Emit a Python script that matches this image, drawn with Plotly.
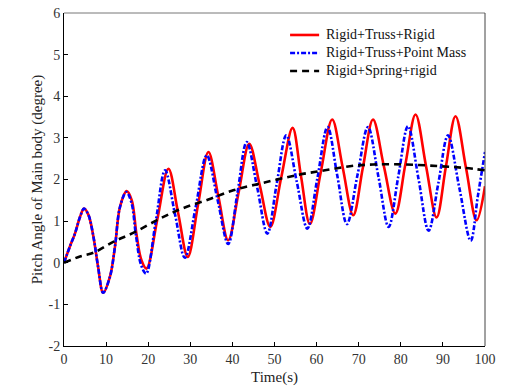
import plotly.graph_objects as go

# Rigid+Truss+Rigid (red, solid)
t_red = [0, 1.4, 2.6, 3.8, 4.75, 5.8, 7.0, 8.1, 9.3, 10.9, 12.1, 13.3, 14.9, 16.1, 17.2, 18.4, 19.6,
         22.2, 24.8, 27.1, 29.4, 31.85, 34.3, 36.65, 39.0, 41.5, 44.0, 46.5, 49.0, 51.6, 54.3,
         56.3, 58.4, 61.0, 63.7, 66.2, 68.7, 71.0, 73.4, 76.0, 78.7, 81.1, 83.5, 86.0, 88.5,
         90.7, 93.0, 95.5, 98.0, 100]
v_red = [0, 0.39, 0.70, 1.10, 1.30, 1.15, 0.62, -0.10, -0.72, -0.34, 0.38, 1.34, 1.72, 1.50, 0.70, 0.06, -0.14,
         1.06, 2.26, 1.20, 0.14, 1.40, 2.66, 1.60, 0.54, 1.70, 2.86, 1.86, 0.86, 2.05, 3.24,
         2.08, 0.93, 2.18, 3.44, 2.29, 1.14, 2.29, 3.44, 2.31, 1.18, 2.37, 3.56, 2.32, 1.09,
         2.30, 3.52, 2.27, 1.02, 1.84]

# Rigid+Truss+Point Mass (blue, dash-dot)
t_blue = [0, 1.4, 2.6, 3.8, 4.75, 5.8, 7.0, 8.1, 9.3, 10.9, 12.1, 13.3, 14.8, 16.0, 17.1, 18.3, 19.5,
          21.8, 24.0, 26.4, 28.7, 31.3, 33.9, 36.5, 39.0, 41.2, 43.4, 45.9, 48.3, 50.5, 52.8,
          55.3, 57.8, 60.2, 62.6, 64.9, 67.2, 69.7, 72.2, 74.7, 77.1, 79.4, 81.7, 84.2, 86.6,
          88.9, 91.2, 93.9, 96.6, 98.3, 100]
v_blue = [0, 0.39, 0.70, 1.10, 1.30, 1.15, 0.62, -0.10, -0.72, -0.34, 0.38, 1.34, 1.70, 1.45, 0.65, -0.05, -0.26,
          1.00, 2.22, 1.15, 0.12, 1.35, 2.58, 1.50, 0.45, 1.68, 2.90, 1.80, 0.70, 1.88, 3.06,
          1.94, 0.82, 2.04, 3.26, 2.10, 0.93, 2.10, 3.26, 2.06, 0.86, 2.07, 3.28, 2.02, 0.77,
          1.90, 3.06, 1.80, 0.53, 1.60, 2.66]

# Rigid+Spring+rigid (black, dashed)
t_black = [0, 3.8, 7.0, 11.7, 16.9, 22.8, 28.0, 34.3, 40.2, 48.1, 56.0, 62.0, 67.9, 73.4, 81.3, 89.2, 95.0, 100]
v_black = [0, 0.15, 0.24, 0.50, 0.74, 1.06, 1.30, 1.52, 1.74, 1.94, 2.12, 2.22, 2.32, 2.36, 2.36, 2.32, 2.28, 2.22]

names = ["Rigid+Truss+Rigid", "Rigid+Truss+Point Mass", "Rigid+Spring+rigid"]
x_ticks = [0, 10, 20, 30, 40, 50, 60, 70, 80, 90, 100]
y_ticks = [-2, -1, 0, 1, 2, 3, 4, 5, 6]

FONT = "Liberation Serif, Times New Roman, serif"
colors = ["#ff0000", "#0000ff", "#000000"]
dashes = ["solid", "5px,2px,2px,2px", "7px,5px"]

fig = go.Figure()
for tx, vy, nm, c, d in [(t_red, v_red, names[0], colors[0], dashes[0]),
                         (t_blue, v_blue, names[1], colors[1], dashes[1]),
                         (t_black, v_black, names[2], colors[2], dashes[2])]:
    fig.add_trace(go.Scatter(x=tx, y=vy, mode="lines", name=nm, showlegend=False,
                             line=dict(color=c, width=2.6, dash=d, shape="spline", smoothing=1.0)))

axis_common = dict(showgrid=False, zeroline=False, ticks="inside", ticklen=4, tickwidth=1,
                   tickcolor="#000000", linecolor="#000000", linewidth=1, mirror=False,
                   automargin=False,
                   tickfont=dict(family=FONT, size=14, color="#333333"))

fig.update_layout(
    width=513, height=388,
    margin=dict(l=64, r=28, t=13, b=42, autoexpand=False),
    paper_bgcolor="white", plot_bgcolor="white",
    font=dict(family=FONT, size=14, color="#000000"),
    xaxis=dict(range=[0, 100], tickvals=x_ticks, ticktext=[str(v) for v in x_ticks],
               title=dict(text="Time(s)", font=dict(family=FONT, size=15, color="#222222"), standoff=5),
               **axis_common),
    yaxis=dict(range=[-2, 6], tickvals=y_ticks, ticktext=[str(v) for v in y_ticks],
               title=dict(text="Pitch Angle of Main body (degree)", font=dict(family=FONT, size=15, color="#222222"), standoff=2),
               **axis_common),
    showlegend=False,
)

# manual legend (MATLAB-style, no box)
legend_rows = [0.934, 0.880, 0.826]
for i, (nm, c, d) in enumerate(zip(names, colors, dashes)):
    yy = legend_rows[i]
    fig.add_shape(type="line", xref="paper", yref="paper", x0=0.537, x1=0.606, y0=yy, y1=yy,
                  line=dict(color=c, width=2.6, dash=d))
    fig.add_annotation(xref="paper", yref="paper", x=0.618, y=yy, xanchor="left", yanchor="middle",
                       text=nm, showarrow=False, font=dict(family=FONT, size=14, color="#111111"))

# top and right box lines (grey)
fig.add_shape(type="line", xref="paper", yref="paper", x0=0, x1=1, y0=1, y1=1,
              line=dict(color="#777777", width=1))
fig.add_shape(type="line", xref="paper", yref="paper", x0=1, x1=1, y0=0, y1=1,
              line=dict(color="#444444", width=1))

fig.write_html("out.html", config={"displayModeBar": False},
               post_script="document.body.style.margin='0';")
